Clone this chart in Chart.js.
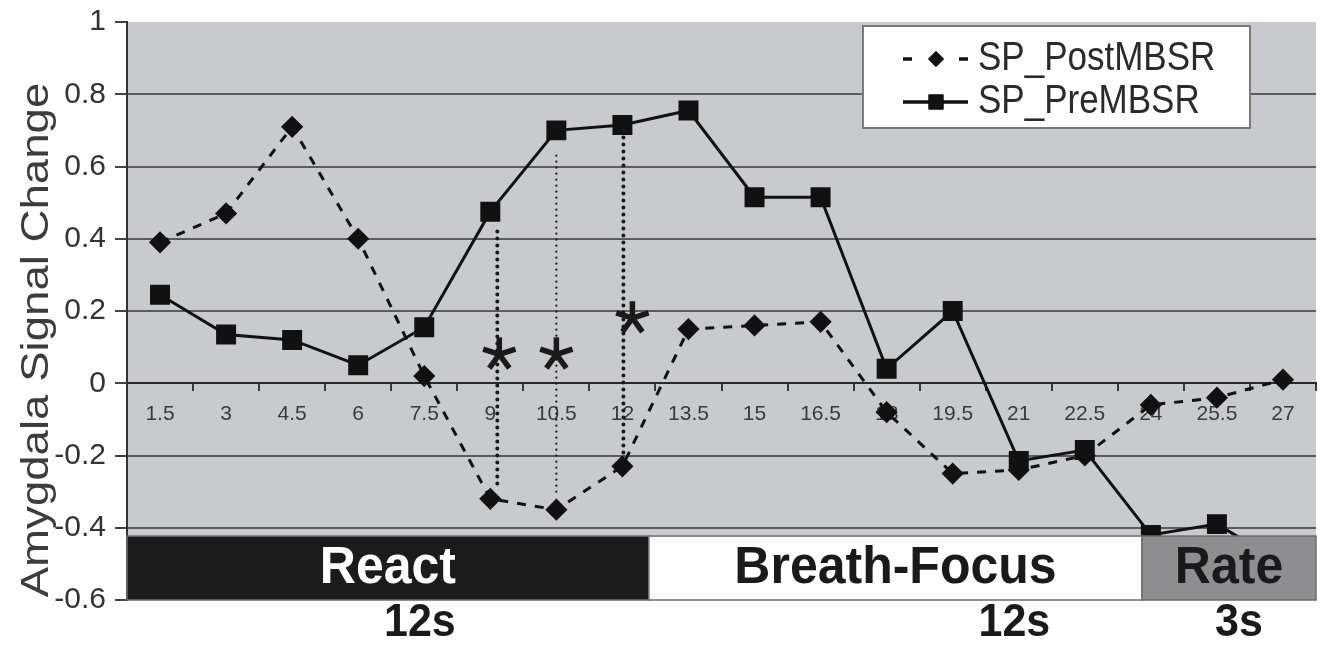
<!DOCTYPE html>
<html>
<head>
<meta charset="utf-8">
<script src="https://cdn.jsdelivr.net/npm/chart.js@4.4.1/dist/chart.umd.min.js"></script>
<style>
  body { margin: 0; background: #fff; }
</style>
</head>
<body>
<canvas id="chart" width="1324" height="645"></canvas>
<script>
// time points (s)
const times = ['1.5', '3', '4.5', '6', '7.5', '9', '10.5', '12', '13.5', '15', '16.5', '18', '19.5', '21', '22.5', '24', '25.5', '27'];
const postMBSR = [0.39, 0.47, 0.71, 0.40, 0.02, -0.32, -0.35, -0.23, 0.15, 0.16, 0.17, -0.08, -0.25, -0.24, -0.20, -0.06, -0.04, 0.01];
const preMBSR = [0.245, 0.135, 0.12, 0.05, 0.155, 0.475, 0.70, 0.715, 0.755, 0.515, 0.515, 0.04, 0.20, -0.215, -0.185, -0.42, -0.39, -0.50];
const yTicks = [1, 0.8, 0.6, 0.4, 0.2, 0, -0.2, -0.4, -0.6];

// task blocks under the curves (end time in s)
const phaseNames = ['React', 'Breath-Focus', 'Rate'];
const phaseEnds = [12.6, 23.8, 27.75];
const phaseDurations = ['12s', '12s', '3s'];
const durationAt = [7.4, 20.9, 26.0];

// significant differences
const sigTimes = ['9', '10.5', '12'];
const sigTop = [0.42, 0.63, 0.70];
const sigBottom = [-0.29, -0.31, -0.20];
const sigStar = [0.08, 0.08, 0.18];

const FONT = "'Liberation Sans', Arial, sans-serif";

function secToIndex(s) {
  return s / 1.5 - 1;
}

// text with a little vertical stretch, like the scanned figure
function drawText(ctx, text, x, y, font, color, align, sy) {
  ctx.save();
  ctx.translate(x, y);
  ctx.scale(1, sy || 1);
  ctx.font = font;
  ctx.fillStyle = color;
  ctx.textAlign = align || 'center';
  ctx.textBaseline = 'middle';
  ctx.fillText(text, 0, 0);
  ctx.restore();
}

function drawAsterisk(ctx, x, y, r) {
  ctx.save();
  ctx.strokeStyle = '#1a1a1a';
  ctx.lineWidth = 5.5;
  ctx.lineCap = 'butt';
  for (let k = 0; k < 5; k++) {
    const ang = -Math.PI / 2 + k * 2 * Math.PI / 5;
    ctx.beginPath();
    ctx.moveTo(x, y);
    ctx.lineTo(x + Math.cos(ang) * r, y + Math.sin(ang) * r);
    ctx.stroke();
  }
  ctx.restore();
}

const extras = {
  id: 'extras',
  beforeDraw(chart) {
    const { ctx, chartArea: a } = chart;
    ctx.save();
    ctx.fillStyle = '#c9cacd';
    ctx.fillRect(a.left, a.top, a.right - a.left, a.bottom - a.top);
    ctx.restore();
  },
  afterDatasetsDraw(chart) {
    const { ctx, chartArea: a } = chart;
    const x = chart.scales.x;
    const y = chart.scales.y;

    // dotted lines between the two curves
    const lineShift = [7, 0, 1];
    const starShift = [9, 0, 10];
    sigTimes.forEach((t, i) => {
      const px = x.getPixelForValue(times.indexOf(t));
      ctx.save();
      ctx.strokeStyle = '#1a1a1a';
      ctx.lineCap = 'round';
      if (i === 1) {
        ctx.lineWidth = 2.2;
        ctx.setLineDash([0, 6]);
      } else {
        ctx.lineWidth = 4;
        ctx.setLineDash([0, 7]);
      }
      ctx.beginPath();
      ctx.moveTo(px + lineShift[i], y.getPixelForValue(sigTop[i]));
      ctx.lineTo(px + lineShift[i], y.getPixelForValue(sigBottom[i]));
      ctx.stroke();
      ctx.restore();
      drawAsterisk(ctx, px + starShift[i], y.getPixelForValue(sigStar[i]), 17);
    });

    // task blocks
    const top = y.getPixelForValue(-0.423);
    const bottom = y.getPixelForValue(-0.6);
    const fills = ['#1c1b1c', '#ffffff', '#8e8e91'];
    const textColors = ['#ffffff', '#1a1a1a', '#1a1a1a'];
    let start = 0.75;
    phaseNames.forEach((name, i) => {
      const x0 = Math.max(a.left, x.getPixelForValue(secToIndex(start)));
      const x1 = Math.min(a.right, x.getPixelForValue(secToIndex(phaseEnds[i])));
      ctx.save();
      ctx.fillStyle = fills[i];
      ctx.fillRect(x0, top, x1 - x0, bottom - top);
      ctx.strokeStyle = '#6d6d6d';
      ctx.lineWidth = 1.5;
      ctx.strokeRect(x0, top, x1 - x0, bottom - top);
      ctx.restore();
      drawText(ctx, name, (x0 + x1) / 2, (top + bottom) / 2 + 1, 'bold 50px ' + FONT, textColors[i], 'center', 1.05);
      start = phaseEnds[i];
    });

    // legend box
    const lx = 863, ly = 26, lw = 387, lh = 102;
    ctx.save();
    ctx.fillStyle = '#ffffff';
    ctx.fillRect(lx, ly, lw, lh);
    ctx.strokeStyle = '#7a7a7a';
    ctx.lineWidth = 2;
    ctx.strokeRect(lx, ly, lw, lh);
    ctx.restore();
    chart.data.datasets.forEach((ds, i) => {
      const cy = ly + 33 + i * 43;
      ctx.save();
      ctx.strokeStyle = ds.borderColor;
      ctx.lineWidth = 3.5;
      ctx.beginPath();
      if (ds.borderDash) {
        ctx.moveTo(903, cy); ctx.lineTo(912, cy);
        ctx.moveTo(959, cy); ctx.lineTo(968, cy);
      } else {
        ctx.moveTo(903, cy); ctx.lineTo(968, cy);
      }
      ctx.stroke();
      ctx.fillStyle = ds.pointBackgroundColor;
      ctx.strokeStyle = ds.pointBorderColor;
      ctx.lineWidth = 1;
      Chart.helpers.drawPoint(ctx, { pointStyle: ds.pointStyle, radius: ds.pointRadius * 0.85, borderWidth: 1 }, 936, cy);
      ctx.restore();
      drawText(ctx, ds.label, 978, cy, '35px ' + FONT, '#2b2b2b', 'left', 1.18);
    });
  },
  afterDraw(chart) {
    const { ctx } = chart;
    const x = chart.scales.x;
    // y axis title
    ctx.save();
    ctx.translate(38, 340);
    ctx.rotate(-Math.PI / 2);
    ctx.scale(1.2, 1);
    ctx.font = '38px ' + FONT;
    ctx.fillStyle = '#3c3c3c';
    ctx.textAlign = 'center';
    ctx.textBaseline = 'middle';
    ctx.fillText('Amygdala Signal Change', 0, 0);
    ctx.restore();
    // block durations
    phaseDurations.forEach((d, i) => {
      drawText(ctx, d, x.getPixelForValue(secToIndex(durationAt[i])), 623, 'bold 43px ' + FONT, '#1a1a1a', 'center', 1.08);
    });
  }
};

new Chart(document.getElementById('chart'), {
  type: 'line',
  data: {
    labels: times,
    datasets: [
      {
        label: 'SP_PostMBSR',
        data: postMBSR,
        borderColor: '#111111',
        borderWidth: 3,
        borderDash: [9, 9],
        pointStyle: 'rectRot',
        pointRadius: 9,
        pointBackgroundColor: '#111111',
        pointBorderColor: '#111111',
        tension: 0
      },
      {
        label: 'SP_PreMBSR',
        data: preMBSR,
        borderColor: '#111111',
        borderWidth: 3,
        pointStyle: 'rect',
        pointRadius: 12,
        pointBackgroundColor: '#111111',
        pointBorderColor: '#111111',
        tension: 0
      }
    ]
  },
  options: {
    responsive: false,
    animation: false,
    layout: { autoPadding: false, padding: { top: 22, right: 8, bottom: 45, left: 0 } },
    plugins: {
      legend: { display: false },
      tooltip: { enabled: false }
    },
    scales: {
      x: {
        position: { y: 0 },
        offset: true,
        afterFit: s => { s.height = 0; s.paddingLeft = 0; s.paddingRight = 0; },
        grid: { drawOnChartArea: false, drawTicks: true, tickLength: 7, color: '#3a3a3a', lineWidth: 2, offset: true },
        border: { display: true, color: '#2a2a2a', width: 2 },
        ticks: { font: { family: FONT, size: 21 }, color: '#3a3a3a', padding: 11, maxRotation: 0, autoSkip: false }
      },
      y: {
        min: -0.6,
        max: 1,
        afterBuildTicks: s => { s.ticks = yTicks.map(v => ({ value: v })); },
        afterFit: s => { s.width = 127; s.paddingTop = 0; s.paddingBottom = 0; },
        border: { display: true, color: '#333333', width: 2 },
        grid: {
          color: c => (c.tick && (c.tick.value === 1 || c.tick.value === -0.6)) ? 'rgba(0,0,0,0)' : '#5c5c5e',
          tickColor: '#444444',
          lineWidth: 2,
          tickLength: 12
        },
        ticks: {
          font: { family: FONT, size: 30 },
          color: '#333333',
          padding: 9,
          callback: v => String(+v.toFixed(1))
        }
      }
    }
  },
  plugins: [extras]
});
</script>
</body>
</html>
